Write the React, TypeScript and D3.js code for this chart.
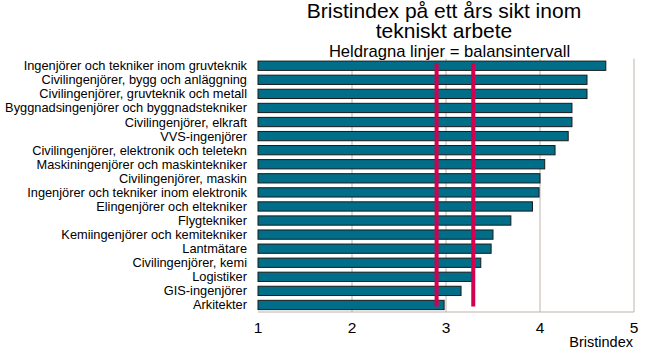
import React, { useEffect, useRef } from 'react'
import * as d3 from 'd3'

const categories = [
  'Ingenjörer och tekniker inom gruvteknik',
  'Civilingenjörer, bygg och anläggning',
  'Civilingenjörer, gruvteknik och metall',
  'Byggnadsingenjörer och byggnadstekniker',
  'Civilingenjörer, elkraft',
  'VVS-ingenjörer',
  'Civilingenjörer, elektronik och teletekn',
  'Maskiningenjörer och maskintekniker',
  'Civilingenjörer, maskin',
  'Ingenjörer och tekniker inom elektronik',
  'Elingenjörer och eltekniker',
  'Flygtekniker',
  'Kemiingenjörer och kemitekniker',
  'Lantmätare',
  'Civilingenjörer, kemi',
  'Logistiker',
  'GIS-ingenjörer',
  'Arkitekter',
]
const values = [4.7, 4.5, 4.5, 4.34, 4.34, 4.3, 4.16, 4.05, 4.0, 3.99, 3.92, 3.69, 3.5, 3.48, 3.37, 3.28, 3.16, 2.98]
const balanceLimits = [2.9, 3.29]
const xTicks = [1, 2, 3, 4, 5]

const BAR_COLOR = '#006e88'
const LINE_COLOR = '#d3004f'
const GRID_COLOR = '#bdb3aa'
const FONT = 'Liberation Sans, Arial, sans-serif'

export default function App() {
  const svgRef = useRef<SVGSVGElement>(null)

  useEffect(() => {
    const W = 650, H = 359
    const svg = d3.select(svgRef.current)
    svg.selectAll('*').remove()

    const margin = { left: 258, right: 16, top: 58.7, bottom: 47 }
    const x = d3.scaleLinear().domain([1, 5]).range([margin.left, margin.left + 376])
    const y = d3.scaleBand().domain(categories).range([margin.top, H - margin.bottom]).paddingInner(0.34).paddingOuter(0.17)

    // title
    const titleX = 444
    svg.append('text').attr('x', titleX).attr('y', 17.5).attr('text-anchor', 'middle')
      .attr('font-family', FONT).attr('font-size', 21).attr('fill', '#000').text('Bristindex på ett års sikt inom')
    svg.append('text').attr('x', titleX).attr('y', 37.5).attr('text-anchor', 'middle')
      .attr('font-family', FONT).attr('font-size', 21).attr('fill', '#000').text('tekniskt arbete')
    svg.append('text').attr('x', 449.5).attr('y', 57).attr('text-anchor', 'middle')
      .attr('font-family', FONT).attr('font-size', 16.6).attr('fill', '#000').text('Heldragna linjer = balansintervall')

    const plotBottom = H - margin.bottom
    // grid lines
    svg.selectAll('.grid').data(xTicks.slice(1)).join('line')
      .attr('x1', d => x(d)).attr('x2', d => x(d))
      .attr('y1', margin.top).attr('y2', plotBottom)
      .attr('stroke', GRID_COLOR).attr('stroke-width', 1)

    // bottom axis line
    svg.append('line').attr('x1', x(1)).attr('x2', x(5)).attr('y1', plotBottom).attr('y2', plotBottom)
      .attr('stroke', GRID_COLOR).attr('stroke-width', 1)

    // bars
    svg.selectAll('.bar').data(values).join('rect')
      .attr('x', x(1)).attr('y', (d, i) => y(categories[i])!)
      .attr('width', d => x(d) - x(1)).attr('height', y.bandwidth())
      .attr('fill', BAR_COLOR).attr('stroke', '#1a1a1a').attr('stroke-width', 1)

    // balance lines
    const first = y(categories[0])! + 2
    const last = y(categories[categories.length - 1])! + y.bandwidth() - 3
    svg.selectAll('.bal').data(balanceLimits).join('line')
      .attr('x1', d => x(d)).attr('x2', d => x(d))
      .attr('y1', first).attr('y2', last)
      .attr('stroke', LINE_COLOR).attr('stroke-width', 4)

    // category labels
    svg.selectAll('.cat').data(categories).join('text')
      .attr('x', 247).attr('y', d => y(d)! + y.bandwidth() / 2 + 4.5)
      .attr('text-anchor', 'end').attr('font-family', FONT).attr('font-size', 12.8).attr('fill', '#000')
      .text(d => d)

    // tick labels
    svg.selectAll('.tick').data(xTicks).join('text')
      .attr('x', d => x(d)).attr('y', 333).attr('text-anchor', 'middle')
      .attr('font-family', FONT).attr('font-size', 15.5).attr('fill', '#000')
      .text(d => d)

    svg.append('text').attr('x', 633).attr('y', 347).attr('text-anchor', 'end')
      .attr('font-family', FONT).attr('font-size', 14.5).attr('fill', '#000').text('Bristindex')
  }, [])

  return (
    <svg ref={svgRef} width={650} height={359}
      style={{ position: 'absolute', left: 0, top: 0, background: '#fff', display: 'block' }} />
  )
}
